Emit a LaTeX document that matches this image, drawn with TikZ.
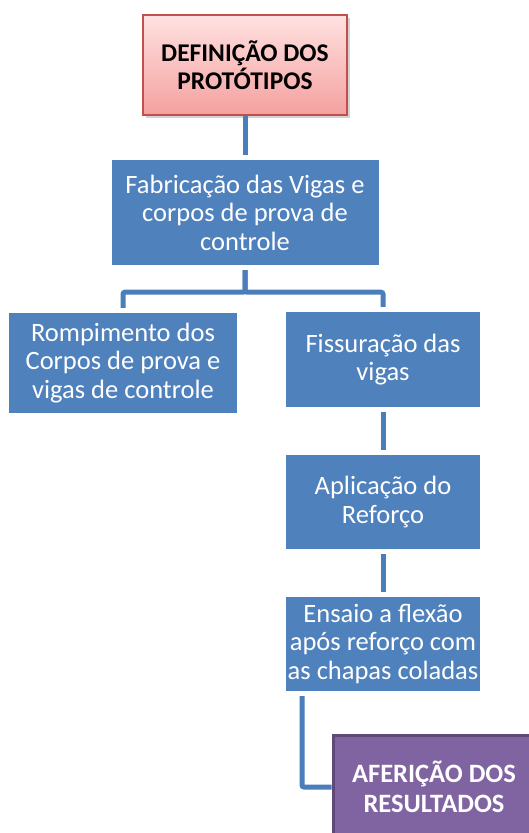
\documentclass[tikz,border=0pt]{standalone}
\usepackage{fontspec}
\setmainfont{Carlito}
\usetikzlibrary{shadows,positioning}
\definecolor{caixaazul}{HTML}{4F81BD}
\definecolor{ligaazul}{HTML}{4A7EBB}
\definecolor{rosatopo}{HTML}{FFE1E1}
\definecolor{rosabase}{HTML}{F4A19F}
\definecolor{bordavermelha}{HTML}{C0504D}
\definecolor{roxo}{HTML}{8064A2}
\definecolor{roxoescuro}{HTML}{5F497A}
\tikzset{
  etapa/.style={fill=caixaazul,text=white,align=center,inner sep=0pt,
    font=\fontsize{26.5}{28.5}\selectfont},
  inicio/.style={top color=rosatopo,bottom color=rosabase,draw=bordavermelha,
    line width=2pt,align=center,inner sep=0pt,
    drop shadow={shadow xshift=3pt,shadow yshift=-3pt,opacity=0.35},
    font=\bfseries\fontsize{25.5}{28}\selectfont},
  fim/.style={fill=roxo,draw=roxoescuro,line width=3pt,text=white,align=center,
    inner sep=0pt,font=\bfseries\fontsize{26.5}{30}\selectfont},
  liga/.style={draw=ligaazul,line width=5pt,rounded corners=2pt,
    shorten <=5pt,shorten >=5pt}
}
\begin{document}
\begin{tikzpicture}[x=1pt,y=-1pt]
\useasboundingbox (0,0) rectangle (529,833);
% caixas
\node[inicio,minimum width=204pt,minimum height=100pt] (def) at (245,65)
  {DEFINIÇÃO DOS\\PROTÓTIPOS};
\node[etapa,minimum width=267pt,minimum height=105pt] (fab) at (245,212.5)
  {Fabricação das Vigas e\\corpos de prova de\\controle};
\node[etapa,minimum width=228pt,minimum height=100pt] (romp) at (123,363)
  {Rompimento dos\\Corpos de prova e\\vigas de controle};
\node[etapa,minimum width=194pt,minimum height=95pt] (fiss) at (383,359.5)
  {Fissuração das\\vigas};
\node[etapa,minimum width=194pt,minimum height=94pt] (apl) at (383,502)
  {Aplicação do\\Reforço};
\node[etapa,minimum width=194pt,minimum height=94pt] (ens) at (383,644)
  {Ensaio a flexão\\após reforço com\\as chapas coladas};
\node[fim,minimum width=202pt,minimum height=104pt] (afer) at (434,787)
  {AFERIÇÃO DOS\\RESULTADOS};
% ligacoes
\coordinate (saida) at (302,691);
\draw[liga,shorten <=0pt] (def.south) -- (fab.north);
\draw[liga] (fab.south) -- ++(0,27) -| (romp.north);
\draw[liga] (fab.south) -- ++(0,27) -| (fiss.north);
\draw[liga] (fiss) -- (apl);
\draw[liga] (apl) -- (ens);
\draw[liga,shorten >=0pt] (saida) |- (afer.west);
\end{tikzpicture}
\end{document}
